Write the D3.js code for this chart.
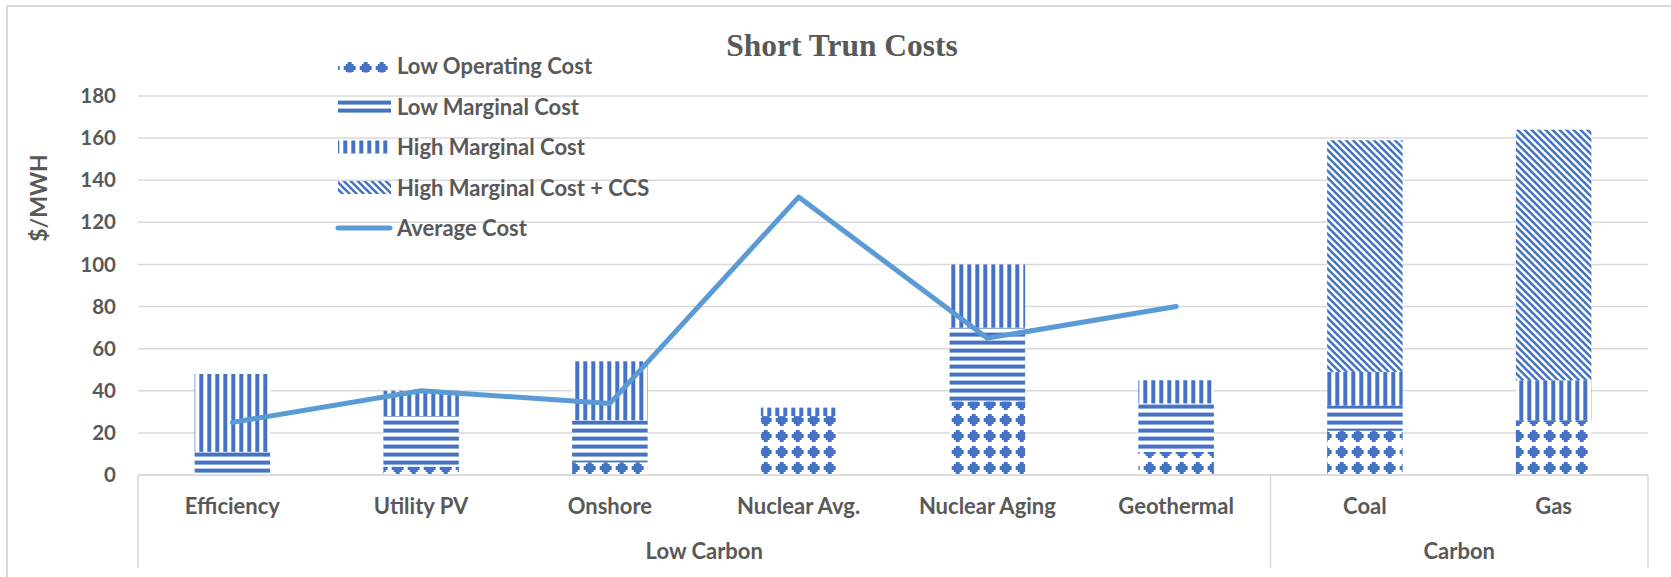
<!DOCTYPE html>
<html>
<head>
<meta charset="utf-8">
<script src="https://cdn.jsdelivr.net/npm/d3@7"></script>
<style>
  body { margin: 0; background: #fff; }
  text { font-family: Lato, "Open Sans", sans-serif; font-weight: bold; fill: #595959; }
</style>
</head>
<body>
<div id="chart"></div>
<script>
// chart data
const categories = ["Efficiency", "Utility PV", "Onshore", "Nuclear Avg.", "Nuclear Aging", "Geothermal", "Coal", "Gas"];
const groupNames = ["Low Carbon", "Carbon"];
const groupOf = [0, 0, 0, 0, 0, 0, 1, 1];

const lowOperating = [0, 4, 6, 28, 35, 11, 21, 26];
const lowMarginal = [11, 24, 20, 0, 35, 23, 12, 0];
const highMarginal = [37, 12, 28, 4, 30, 11, 16, 19];
const highMarginalCCS = [0, 0, 0, 0, 0, 0, 110, 119];
const averageCost = [25, 40, 34, 132, 65, 80, null, null];

const seriesNames = ["Low Operating Cost", "Low Marginal Cost", "High Marginal Cost", "High Marginal Cost + CCS"];
const lineName = "Average Cost";
const yTicks = [0, 20, 40, 60, 80, 100, 120, 140, 160, 180];

const width = 1671, height = 577;
const blue = "#4472C4", lineBlue = "#5B9BD5", grid = "#D9D9D9";
const plot = { left: 138, right: 1648, top: 96, bottom: 475 };

const svg = d3.select("#chart").append("svg")
    .attr("width", width)
    .attr("height", height);

svg.append("rect").attr("width", width).attr("height", height).attr("fill", "#fff");

// fill patterns, aligned to the page like office patterns are
const defs = svg.append("defs");

const pDiamond = defs.append("pattern")
    .attr("id", "pat0").attr("patternUnits", "userSpaceOnUse")
    .attr("x", 5.7).attr("y", 12).attr("width", 16).attr("height", 16);
pDiamond.append("rect").attr("width", 16).attr("height", 16).attr("fill", "#fff");
pDiamond.append("path")
    .attr("d", "M6,2H10V4H12V6H14V10H12V12H10V14H6V12H4V10H2V6H4V4H6Z")
    .attr("fill", blue);

const pHoriz = defs.append("pattern")
    .attr("id", "pat1").attr("patternUnits", "userSpaceOnUse")
    .attr("x", 0).attr("y", 4.6).attr("width", 8).attr("height", 8);
pHoriz.append("rect").attr("width", 8).attr("height", 8).attr("fill", "#fff");
pHoriz.append("rect").attr("width", 8).attr("height", 4).attr("fill", blue);

const pVert = defs.append("pattern")
    .attr("id", "pat2").attr("patternUnits", "userSpaceOnUse")
    .attr("x", 7.3).attr("y", 0).attr("width", 8).attr("height", 8);
pVert.append("rect").attr("width", 8).attr("height", 8).attr("fill", "#fff");
pVert.append("rect").attr("width", 4).attr("height", 8).attr("fill", blue);

const pDiag = defs.append("pattern")
    .attr("id", "pat3").attr("patternUnits", "userSpaceOnUse")
    .attr("width", 7).attr("height", 7);
pDiag.append("rect").attr("width", 7).attr("height", 7).attr("fill", "#fff");
pDiag.append("path").attr("d", "M0,0L3.5,0L7,3.5L7,7Z M0,3.5L3.5,7L0,7Z").attr("fill", blue);

// chart area border (top and left edges visible)
svg.append("path")
    .attr("d", `M7,${height}V6H${width}`)
    .attr("fill", "none")
    .attr("stroke", grid)
    .attr("stroke-width", 2);

const x = d3.scaleBand()
    .domain(categories)
    .range([plot.left, plot.right])
    .paddingInner(0.6)
    .paddingOuter(0.3);

const y = d3.scaleLinear()
    .domain([0, 180])
    .range([plot.bottom, plot.top]);

const cx = c => x(c) + x.bandwidth() / 2;

// gridlines
svg.append("g")
    .selectAll("line")
    .data(yTicks)
    .join("line")
    .attr("x1", plot.left).attr("x2", plot.right)
    .attr("y1", d => y(d)).attr("y2", d => y(d))
    .attr("stroke", grid)
    .attr("stroke-width", 1.5);

// y axis labels
const yAxis = svg.append("g")
    .attr("transform", `translate(${plot.left},0)`)
    .call(d3.axisLeft(y).tickValues(yTicks).tickSize(0).tickPadding(22));
yAxis.select(".domain").remove();
yAxis.selectAll("text")
    .style("font-family", "Lato, sans-serif")
    .style("font-weight", "bold")
    .style("font-size", "20.5px")
    .attr("fill", "#595959");

svg.append("text")
    .attr("transform", `translate(47,198) rotate(-90)`)
    .attr("text-anchor", "middle")
    .style("font-size", "23px")
    .text("$/MWH");

// title
svg.append("text")
    .attr("x", 842).attr("y", 56)
    .attr("text-anchor", "middle")
    .style("font-family", "'Liberation Serif', 'DejaVu Serif', serif")
    .style("font-size", "31.5px")
    .text("Short Trun Costs");

// stacked bars
const rows = categories.map((c, i) => ({
    cat: c,
    s0: lowOperating[i],
    s1: lowMarginal[i],
    s2: highMarginal[i],
    s3: highMarginalCCS[i]
}));
const stacked = d3.stack().keys(["s0", "s1", "s2", "s3"])(rows);

svg.append("g")
    .selectAll("g")
    .data(stacked)
    .join("g")
    .attr("fill", (d, i) => `url(#pat${i})`)
    .selectAll("rect")
    .data(d => d)
    .join("rect")
    .attr("x", d => x(d.data.cat))
    .attr("width", x.bandwidth())
    .attr("y", d => y(d[1]))
    .attr("height", d => y(d[0]) - y(d[1]));

// average cost line
const avgPts = categories.map((c, i) => ({ cat: c, v: averageCost[i] }));
svg.append("path")
    .datum(avgPts)
    .attr("fill", "none")
    .attr("stroke", lineBlue)
    .attr("stroke-width", 5)
    .attr("stroke-linejoin", "round")
    .attr("stroke-linecap", "round")
    .attr("d", d3.line()
        .defined(d => d.v != null)
        .x(d => cx(d.cat))
        .y(d => y(d.v)));

// category axis with group level
const axisG = svg.append("g").attr("stroke", grid).attr("stroke-width", 1.5);
axisG.append("line")
    .attr("x1", plot.left).attr("x2", plot.right)
    .attr("y1", plot.bottom).attr("y2", plot.bottom);

const groupBounds = groupNames.map((g, gi) => {
    const idx = categories.filter((c, i) => groupOf[i] === gi);
    const x0 = x(idx[0]) - x.step() * 0.3;
    const x1 = x(idx[idx.length - 1]) + x.bandwidth() + x.step() * 0.3;
    return { name: g, x0: x0, x1: x1 };
});
const dividers = [plot.left].concat(groupBounds.map(d => d.x1));
axisG.selectAll("line.div")
    .data(dividers)
    .join("line")
    .attr("class", "div")
    .attr("x1", d => d).attr("x2", d => d)
    .attr("y1", plot.bottom).attr("y2", 568);

svg.append("g")
    .selectAll("text")
    .data(categories)
    .join("text")
    .attr("x", d => cx(d))
    .attr("y", 514)
    .attr("text-anchor", "middle")
    .style("font-size", "22px")
    .text(d => d);

svg.append("g")
    .selectAll("text")
    .data(groupBounds)
    .join("text")
    .attr("x", d => (d.x0 + d.x1) / 2)
    .attr("y", 559)
    .attr("text-anchor", "middle")
    .style("font-size", "22px")
    .text(d => d.name);

// legend
const legendY = [66, 106.5, 147, 187.5, 228];
const legend = svg.append("g");
seriesNames.forEach((name, i) => {
    legend.append("rect")
        .attr("x", 338).attr("y", legendY[i] - 6.5)
        .attr("width", 53).attr("height", 13)
        .attr("fill", `url(#pat${i})`);
    legend.append("text")
        .attr("x", 397).attr("y", legendY[i] + 8)
        .style("font-size", "22px")
        .text(name);
});
legend.append("line")
    .attr("x1", 338).attr("x2", 390)
    .attr("y1", legendY[4]).attr("y2", legendY[4])
    .attr("stroke", lineBlue)
    .attr("stroke-width", 5)
    .attr("stroke-linecap", "round");
legend.append("text")
    .attr("x", 397).attr("y", legendY[4] + 8)
    .style("font-size", "22px")
    .text(lineName);
</script>
</body>
</html>
